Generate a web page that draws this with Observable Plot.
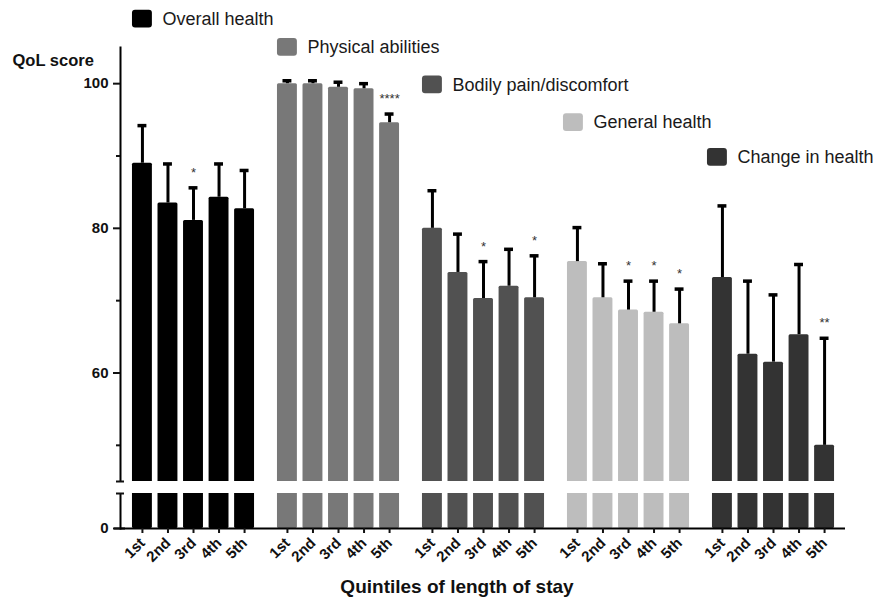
<!DOCTYPE html>
<html><head><meta charset="utf-8">
<script src="https://cdn.jsdelivr.net/npm/d3@7"></script>
<script src="https://cdn.jsdelivr.net/npm/@observablehq/plot@0.6"></script>
<style>
body{margin:0;background:#fff;}
#chart{width:877px;height:608px;}
</style></head><body><div id="chart"></div>
<script>
// ---- data ----
const groups = ["Overall health", "Physical abilities", "Bodily pain/discomfort", "General health", "Change in health"];
const quintiles = ["1st", "2nd", "3rd", "4th", "5th"];
const overallHealth   = [89.0, 83.5, 81.1, 84.3, 82.7];
const overallHealthSE = [94.2, 88.9, 85.6, 88.9, 88.0];
const physical        = [100.0, 100.0, 99.5, 99.3, 94.6];
const physicalSE      = [100.4, 100.4, 100.2, 100.0, 95.8];
const bodilyPain      = [80.0, 73.9, 70.3, 72.0, 70.4];
const bodilyPainSE    = [85.2, 79.2, 75.4, 77.1, 76.2];
const generalHealth   = [75.4, 70.4, 68.7, 68.4, 66.8];
const generalHealthSE = [80.1, 75.1, 72.7, 72.7, 71.6];
const changeHealth    = [73.2, 62.6, 61.5, 65.3, 50.0];
const changeHealthSE  = [83.1, 72.7, 70.8, 75.0, 64.8];
const significance = [
  ["", "", "*", "", ""],
  ["", "", "", "", "****"],
  ["", "", "*", "", "*"],
  ["", "", "*", "*", "*"],
  ["", "", "", "", "**"]
];
const yMajorTicks = [0, 60, 80, 100];
const yMinorTicks = [50, 70, 90];
const yBreakTicks = [5, 45];

// ---- style / layout ----
const colors = ["#000000", "#787878", "#515151", "#bdbdbd", "#333333"];
const legendY = [108.9, 105.0, 99.8, 94.6, 89.8];
const legendShift = [0, 0, 0, -4, -5];

const means = [overallHealth, physical, bodilyPain, generalHealth, changeHealth];
const errs = [overallHealthSE, physicalSE, bodilyPainSE, generalHealthSE, changeHealthSE];

const rows = [];
groups.forEach((g, gi) => {
  quintiles.forEach((q, qi) => {
    rows.push({group: g, q, value: means[gi][qi], err: errs[gi][qi], sig: significance[gi][qi]});
  });
});
const legend = groups.map((g, gi) => ({group: g, q: quintiles[0], y: legendY[gi]}));

const font = "Liberation Sans, Arial, Helvetica, sans-serif";
const first = () => groups[0];
const middle = () => groups[2];

const legendMarks = legend.flatMap((d, i) => [
  Plot.barY([d], {fx: "group", x: "q", y1: e => e.y - 1.2, y2: e => e.y + 1.25, fill: "group", rx: 3, dx: legendShift[i]}),
  Plot.text([d], {fx: "group", x: "q", y: "y", text: "group", textAnchor: "start", dx: 20 + legendShift[i], fontSize: 18, fill: "#1a1a1a"})
]);

const chart = Plot.plot({
  width: 877,
  height: 608,
  marginLeft: 120,
  marginRight: 32,
  marginTop: 47,
  marginBottom: 80,
  style: {fontFamily: font, background: "white", color: "#111"},
  fx: {domain: groups, paddingInner: 0, paddingOuter: 0, round: false, axis: null, label: null},
  x: {domain: quintiles, paddingInner: 0.22, paddingOuter: 0.449, align: 0.522, round: false, axis: null},
  y: {type: "linear", domain: [0, 5, 45, 105], range: [528, 493, 481, 47], axis: null},
  color: {domain: groups, range: colors, legend: false},
  marks: [
    Plot.barY(rows, {fx: "group", x: "q", y1: 0, y2: "value", fill: "group", rx: 1.5}),
    Plot.frame({anchor: "left", facetAnchor: "left", strokeWidth: 2, stroke: "#000"}),
    Plot.rect([0], {y1: 5, y2: 45, fill: "white", insetLeft: -10, insetRight: -10}),
    Plot.ruleX(rows, {fx: "group", x: "q", y1: "value", y2: "err", stroke: "#000", strokeWidth: 3}),
    Plot.tickY(rows, {fx: "group", x: "q", y: "err", stroke: "#000", strokeWidth: 3.5, insetLeft: 5.5, insetRight: 5.5}),
    Plot.text(rows.filter(d => d.sig), {fx: "group", x: "q", y: "err", text: "sig", dy: -15, fontSize: 13, fill: "#333"}),
    Plot.ruleY([0], {stroke: "#000", strokeWidth: 2}),
    Plot.ruleY([0], {fx: first, stroke: "#000", strokeWidth: 2, insetLeft: -6, insetRight: 140}),
    Plot.axisY({ticks: yMajorTicks, facetAnchor: "left", tickSize: 7, tickPadding: 5, fontSize: 15, fontWeight: "bold", label: null, strokeWidth: 2}),
    Plot.axisY({ticks: yMinorTicks, facetAnchor: "left", tickSize: 4, tickFormat: () => "", label: null, strokeWidth: 2}),
    Plot.axisY({ticks: yBreakTicks, facetAnchor: "left", tickSize: 8, tickFormat: () => "", label: null, strokeWidth: 2, dx: 4}),
    Plot.axisX({ticks: quintiles, tickRotate: -45, tickSize: 5, tickPadding: 7, fontSize: 15, fontWeight: "bold", label: null, strokeWidth: 2}),
    ...legendMarks,
    Plot.text(["QoL score"], {fx: first, frameAnchor: "top-left", textAnchor: "start", dx: -108, dy: 7, fontSize: 16.5, fontWeight: "bold"}),
    Plot.text(["Quintiles of length of stay"], {fx: middle, frameAnchor: "bottom", dx: -26, dy: 64, fontSize: 19, fontWeight: "bold"})
  ]
});
document.getElementById("chart").appendChild(chart);
</script>
</body></html>
